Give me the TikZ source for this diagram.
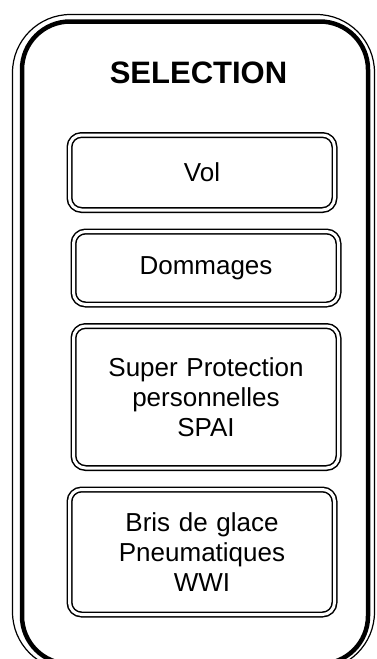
\documentclass[tikz,border=0pt]{standalone}
\usepackage{fontspec}
\setmainfont{Liberation Sans}
\usetikzlibrary{positioning}
\tikzstyle{choice} = [rectangle, rounded corners=12pt, minimum width=265pt, minimum height=75pt, text width=250pt, align=center, draw=black, double, double distance=3pt, line width=1.5pt, font=\fontsize{26}{30}\selectfont]
\tikzstyle{heading} = [font=\fontsize{31}{36}\selectfont\bfseries]
\begin{document}
\begin{tikzpicture}[x=1pt, y=-1pt, node distance=20pt]
\path[use as bounding box, clip] (0,0) rectangle (376,659);
% outer frame (cut at the bottom)
\draw [line width=1.2pt, rounded corners=58pt] (12.5,14.5) rectangle (374.5,670);
\draw [line width=4.5pt, rounded corners=48pt] (22,21.5) rectangle (368,664);
\node (title) [heading] at (198.5,73) {SELECTION};
\node (vol) [choice] at (202,172.5) {Vol};
\node (dommages) [choice, minimum height=73pt, below=of vol, xshift=4pt] {Dommages};
\node (spai) [choice, minimum height=142pt, below=of dommages] {Super Protection\\personnelles\\SPAI};
\node (wwi) [choice, minimum height=125pt, below=of spai, xshift=-4pt] {Bris de glace\\Pneumatiques\\WWI};
\end{tikzpicture}
\end{document}
